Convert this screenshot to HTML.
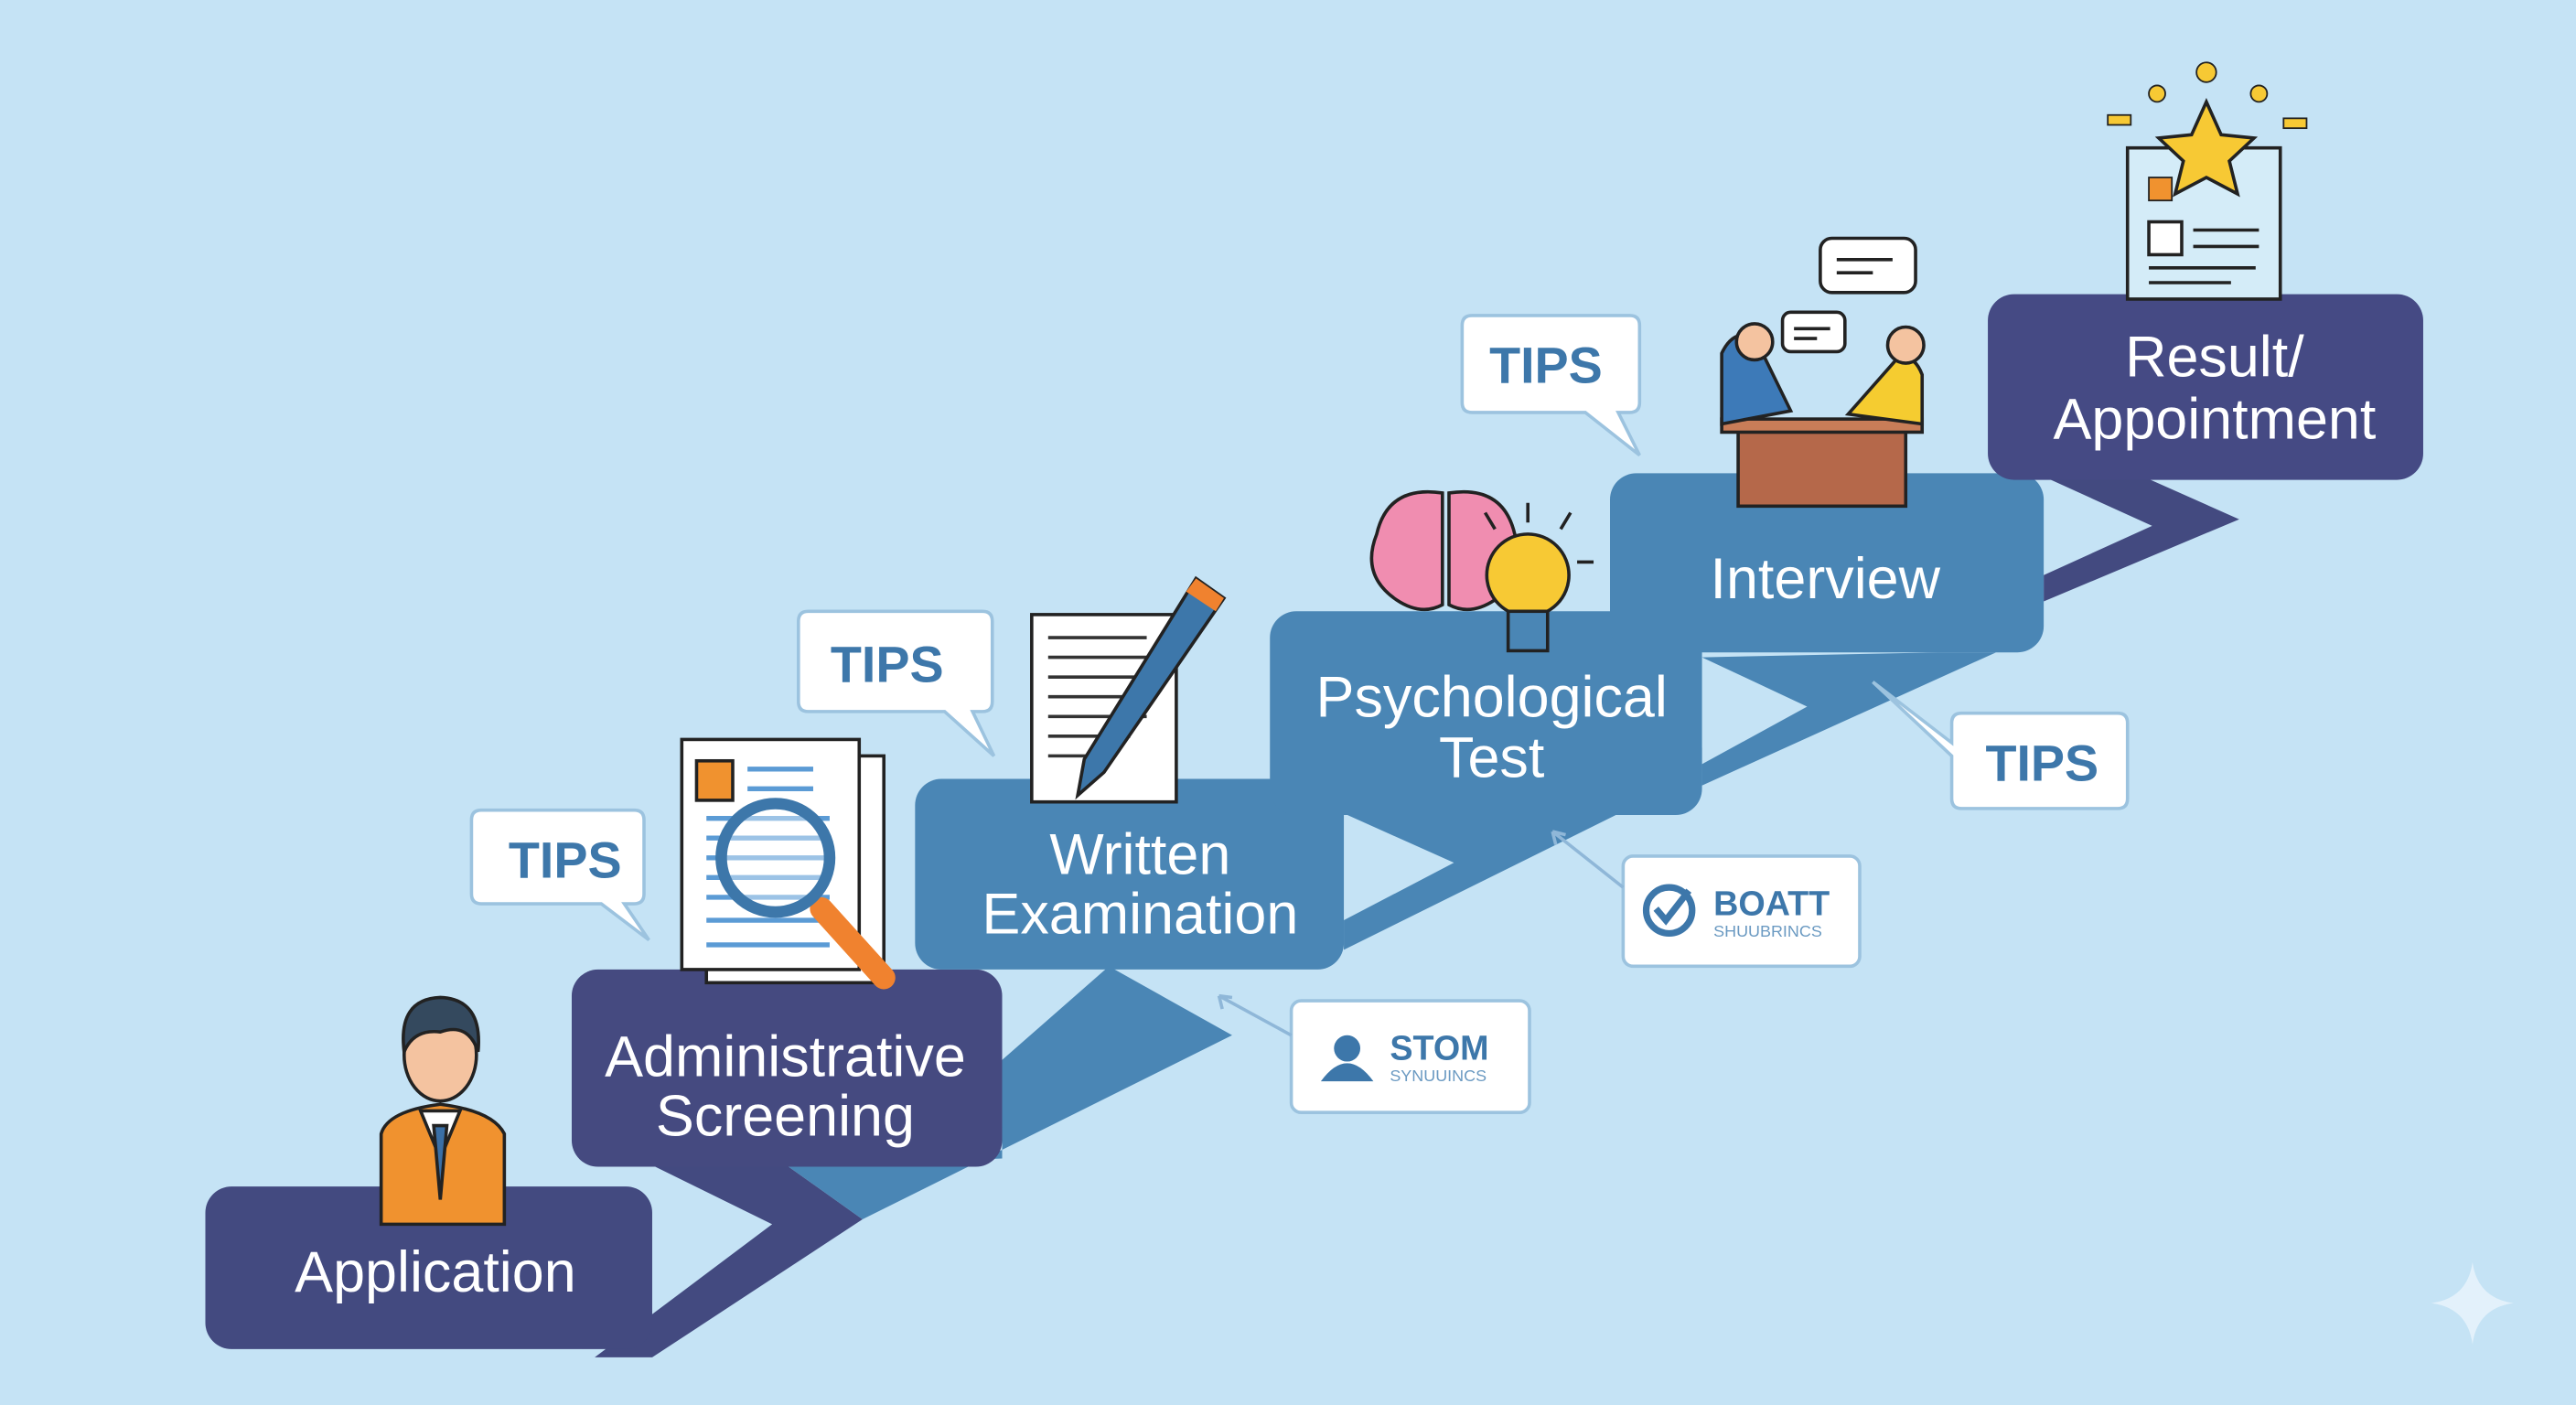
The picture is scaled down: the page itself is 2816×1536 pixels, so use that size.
<!DOCTYPE html>
<html><head><meta charset="utf-8"><style>
html,body{margin:0;padding:0;background:#c5e3f5;}
svg{display:block}
text{font-family:"Liberation Sans",sans-serif;}
</style></head><body>
<svg width="2816" height="1536" viewBox="0 0 1568 855" preserveAspectRatio="none" xmlns="http://www.w3.org/2000/svg">
<rect width="1568" height="855" fill="#c5e3f5"/>
<!-- bands -->
<polygon points="348,685 470,745 362,826 397,826 525,742 480,710" fill="#434a80"/>
<polygon points="480,710 610,705 610,645 675,588 750,630 525,742" fill="#4a86b5"/>
<polygon points="818,495 885,525 818,560 818,578 1036,470 1036,455" fill="#4a86b5"/>
<polygon points="1036,400 1100,430 1036,465 1036,478 1215,397 1180,397" fill="#4a86b5"/>
<polygon points="1244,290 1310,320 1244,350 1244,366 1363,316 1300,288" fill="#434a80"/>
<!-- boxes -->
<rect x="125" y="722" width="272" height="99" rx="16" fill="#434a80"/>
<rect x="348" y="590" width="262" height="120" rx="16" fill="#454a80"/>
<rect x="557" y="474" width="261" height="116" rx="16" fill="#4a86b5"/>
<rect x="773" y="372" width="263" height="124" rx="16" fill="#4a86b5"/>
<rect x="980" y="288" width="264" height="109" rx="16" fill="#4a86b5"/>
<rect x="1210" y="179" width="265" height="113" rx="16" fill="#454a84"/>
<g fill="#fff" font-size="35" text-anchor="middle">
<text x="265" y="786">Application</text>
<text x="478" y="655">Administrative</text><text x="478" y="691">Screening</text>
<text x="694" y="532">Written</text><text x="694" y="568">Examination</text>
<text x="908" y="436">Psychological</text><text x="908" y="473">Test</text>
<text x="1111" y="364">Interview</text>
<text x="1348" y="229">Result/</text><text x="1348" y="267">Appointment</text>
</g>
<!-- TIPS bubbles -->
<g fill="#fff" stroke="#9cc3df" stroke-width="2">
<path d="M293,493 H386 Q392,493 392,499 V544 Q392,550 386,550 H380 L395,572 L366,550 H293 Q287,550 287,544 V499 Q287,493 293,493Z"/>
<path d="M492,372 H598 Q604,372 604,378 V427 Q604,433 598,433 H592 L605,460 L575,433 H492 Q486,433 486,427 V378 Q486,372 492,372Z"/>
<path d="M896,192 H992 Q998,192 998,198 V245 Q998,251 992,251 H985 L998,277 L965,251 H896 Q890,251 890,245 V198 Q890,192 896,192Z"/>
<path d="M1194,434 H1289 Q1295,434 1295,440 V486 Q1295,492 1289,492 H1194 Q1188,492 1188,486 V460 L1140,415 L1188,452 V440 Q1188,434 1194,434Z"/>
<rect x="988" y="521" width="144" height="67" rx="6"/>
<rect x="786" y="609" width="145" height="68" rx="6"/>
</g>
<g stroke="#8fb7d8" stroke-width="2" fill="none">
<path d="M988,540 L945,506 M945,506 l2,8 M945,506 l8,2"/>
<path d="M786,630 L742,606 M742,606 l2,8 M742,606 l8,1"/>
</g>
<g fill="#3d77aa" font-size="31" font-weight="bold" text-anchor="middle">
<text x="344" y="534">TIPS</text><text x="540" y="415">TIPS</text>
<text x="941" y="233">TIPS</text><text x="1243" y="475">TIPS</text>
</g>
<circle cx="1016" cy="554" r="14" fill="none" stroke="#3d77aa" stroke-width="4"/>
<path d="M1008,553 l6,7 l14,-18" fill="none" stroke="#3d77aa" stroke-width="4"/>
<text x="1043" y="557" fill="#3d77aa" font-size="21" font-weight="bold">BOATT</text>
<text x="1043" y="570" fill="#6b9ac2" font-size="10">SHUUBRINCS</text>
<circle cx="820" cy="638" r="8" fill="#3d77aa"/><path d="M804,658 q16,-22 32,0z" fill="#3d77aa"/>
<text x="846" y="645" fill="#3d77aa" font-size="21" font-weight="bold">STOM</text>
<text x="846" y="658" fill="#6b9ac2" font-size="10">SYNUUINCS</text>
<!-- person -->
<g stroke="#222" stroke-width="2">
<path d="M232,745 V690 Q236,676 268,672 Q300,676 307,690 V745Z" fill="#f0922f"/>
<path d="M256,676 L268,705 L280,676Z" fill="#fff"/>
<path d="M264,685 L268,730 L272,685Z" fill="#3a6fa6"/>
<ellipse cx="268" cy="642" rx="22" ry="28" fill="#f4c3a0"/>
<path d="M246,640 Q242,608 268,607 Q294,608 291,640 Q285,622 268,628 Q252,626 246,640Z" fill="#34495e"/>
</g>
<!-- documents + magnifier -->
<g stroke="#222" stroke-width="2">
<rect x="430" y="460" width="108" height="138" fill="#fff"/>
<rect x="415" y="450" width="108" height="140" fill="#fff"/>
<rect x="424" y="463" width="22" height="24" fill="#f0922f"/>
</g>
<g stroke="#5b9bd5" stroke-width="3"><path d="M455,468h40M455,480h40M430,498h75M430,510h75M430,522h75M430,534h75M430,546h75M430,560h75M430,575h75"/></g>
<path d="M500,553 L538,595" stroke="#f0822f" stroke-width="14" stroke-linecap="round"/>
<circle cx="472" cy="522" r="33" fill="rgba(255,255,255,0.4)" stroke="#3d77aa" stroke-width="7"/>
<!-- paper + pen -->
<rect x="628" y="374" width="88" height="114" fill="#fff" stroke="#222" stroke-width="2"/>
<g stroke="#333" stroke-width="2"><path d="M638,388h60M638,400h60M638,412h60M638,424h60M638,436h60M638,448h50M638,460h40"/></g>
<path d="M728,352 L745,364 L672,470 L656,484 L660,462Z" fill="#3d77aa" stroke="#222" stroke-width="2"/>
<path d="M728,352 L745,364 L740,372 L722,360Z" fill="#f0822f"/>
<!-- brain + bulb -->
<path d="M878,300 Q845,295 838,325 Q828,350 850,365 Q865,375 878,368Z" fill="#f08db0" stroke="#222" stroke-width="2"/>
<path d="M882,300 Q915,295 922,325 Q932,350 910,365 Q895,375 882,368Z" fill="#f08db0" stroke="#222" stroke-width="2"/>
<circle cx="930" cy="350" r="25" fill="#f7c934" stroke="#222" stroke-width="2"/>
<rect x="918" y="372" width="24" height="24" fill="#4a86b5" stroke="#222" stroke-width="2"/>
<g stroke="#222" stroke-width="2"><path d="M930,318v-12M950,322l6,-10M960,342h10M910,322l-6,-10"/></g>
<!-- interview -->
<rect x="1058" y="258" width="102" height="50" fill="#b5684a" stroke="#222" stroke-width="2"/>
<rect x="1048" y="255" width="122" height="8" fill="#c97d58" stroke="#222" stroke-width="2"/>
<path d="M1048,258 V215 Q1055,200 1068,205 L1090,250Z" fill="#3d7ab8" stroke="#222" stroke-width="2"/>
<circle cx="1068" cy="208" r="11" fill="#f4c3a0" stroke="#222" stroke-width="2"/>
<path d="M1170,258 V228 Q1165,215 1155,218 L1125,252Z" fill="#f5cc30" stroke="#222" stroke-width="2"/>
<circle cx="1160" cy="210" r="11" fill="#f4c3a0" stroke="#222" stroke-width="2"/>
<g fill="#fff" stroke="#222" stroke-width="2">
<rect x="1085" y="190" width="38" height="24" rx="5"/><rect x="1108" y="145" width="58" height="33" rx="7"/>
</g>
<g stroke="#222" stroke-width="2"><path d="M1092,200h22M1092,206h14M1118,158h34M1118,166h22"/></g>
<!-- certificate -->
<rect x="1295" y="90" width="93" height="92" fill="#d4ecf8" stroke="#222" stroke-width="2"/>
<rect x="1308" y="135" width="20" height="20" fill="#fff" stroke="#222" stroke-width="2"/>
<g stroke="#222" stroke-width="2"><path d="M1335,140h40M1335,150h40M1308,163h65M1308,172h50"/></g>
<rect x="1308" y="108" width="14" height="14" fill="#f0922f" stroke="#222"/>
<polygon points="1343,62 1352,82 1372,84 1357,98 1362,118 1343,108 1324,118 1329,98 1314,84 1334,82" fill="#f7c934" stroke="#222" stroke-width="2"/>
<g fill="#f7c934" stroke="#222"><circle cx="1313" cy="57" r="5"/><circle cx="1343" cy="44" r="6"/><circle cx="1375" cy="57" r="5"/>
<rect x="1283" y="70" width="14" height="6"/><rect x="1390" y="72" width="14" height="6"/></g>
<!-- sparkle -->
<path d="M1505,768 Q1508,790 1530,793 Q1508,796 1505,818 Q1502,796 1480,793 Q1502,790 1505,768Z" fill="#e3f1fb"/>
</svg>
</body></html>
